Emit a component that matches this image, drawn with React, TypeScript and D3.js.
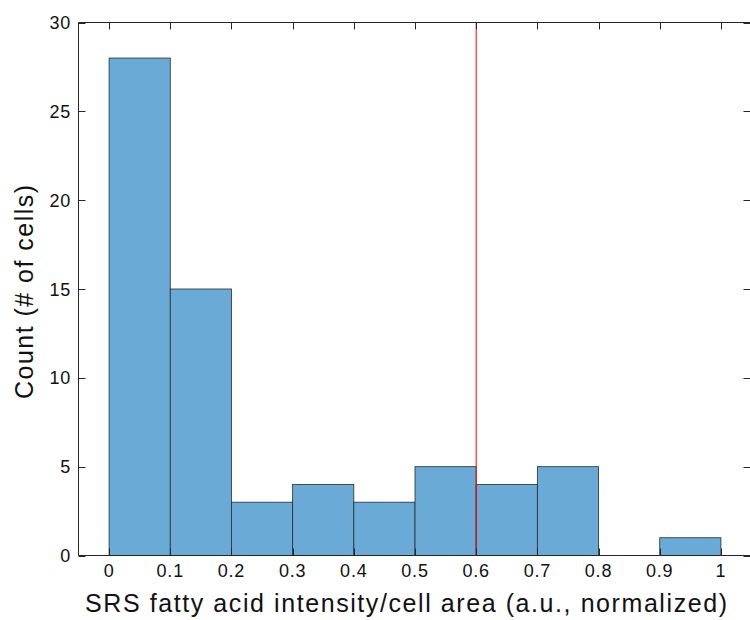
import React, { useRef, useEffect } from 'react';
import * as d3 from 'd3';

// histogram bins (left edges) and counts
const binEdges = [0, 0.1, 0.2, 0.3, 0.4, 0.5, 0.6, 0.7, 0.8, 0.9, 1.0];
const counts = [28, 15, 3, 4, 3, 5, 4, 5, 0, 1];
const xTicks = [0, 0.1, 0.2, 0.3, 0.4, 0.5, 0.6, 0.7, 0.8, 0.9, 1];
const yTicks = [0, 5, 10, 15, 20, 25, 30];
const threshold = 0.6;

const App: React.FC = () => {
  const svgRef = useRef<SVGSVGElement>(null);

  useEffect(() => {
    if (!svgRef.current) return;
    const svg = d3.select(svgRef.current);
    svg.selectAll('*').remove();

    const width = 750;
    const height = 620;
    const left = 78.5;
    const top = 22.5;
    const bottom = 555.5;
    const right = 751.5;
    const font = 'Helvetica, "Liberation Sans", Arial, sans-serif';

    const x = d3.scaleLinear().domain([-0.05, 1.05]).range([left, right]);
    const y = d3.scaleLinear().domain([0, 30]).range([bottom, top]);

    svg.attr('width', width).attr('height', height);

    svg.append('rect').attr('width', width).attr('height', height).attr('fill', '#fff');

    const bins = counts.map((c, i) => ({ x0: binEdges[i], x1: binEdges[i + 1], c }));

    // bars
    svg.selectAll('.bar')
      .data(bins.filter(d => d.c > 0))
      .enter().append('rect')
      .attr('class', 'bar')
      .attr('x', d => x(d.x0))
      .attr('y', d => y(d.c))
      .attr('width', d => x(d.x1) - x(d.x0))
      .attr('height', d => y(0) - y(d.c))
      .attr('fill', '#6aaad7')
      .attr('stroke', '#2b2b2b')
      .attr('stroke-width', 0.8);

    // threshold line
    svg.append('line')
      .attr('x1', x(threshold)).attr('x2', x(threshold))
      .attr('y1', top).attr('y2', bottom)
      .attr('stroke', '#ff0000')
      .attr('stroke-width', 1);

    const axisColor = '#262626';
    const tickLen = 7;

    // box lines (left, bottom, top; right sits at the page edge)
    const box = svg.append('g').attr('stroke', axisColor).attr('stroke-width', 1);
    box.append('line').attr('x1', left).attr('x2', left).attr('y1', top).attr('y2', bottom);
    box.append('line').attr('x1', left).attr('x2', right).attr('y1', bottom).attr('y2', bottom);
    box.append('line').attr('x1', left).attr('x2', right).attr('y1', top).attr('y2', top);
    box.append('line').attr('x1', right - 1).attr('x2', right - 1).attr('y1', top).attr('y2', bottom);

    // x ticks (inward, top and bottom)
    xTicks.forEach(t => {
      const px = Math.round(x(t)) + 0.5;
      box.append('line').attr('x1', px).attr('x2', px).attr('y1', bottom).attr('y2', bottom - tickLen);
      box.append('line').attr('x1', px).attr('x2', px).attr('y1', top).attr('y2', top + tickLen);
    });
    // y ticks (inward, left and right)
    yTicks.forEach(t => {
      const py = Math.round(y(t)) + 0.5;
      box.append('line').attr('x1', left).attr('x2', left + tickLen).attr('y1', py).attr('y2', py);
      box.append('line').attr('x1', right - 1).attr('x2', right - 1 - tickLen).attr('y1', py).attr('y2', py);
    });

    // tick labels
    svg.selectAll('.xlab')
      .data(xTicks)
      .enter().append('text')
      .attr('class', 'xlab')
      .attr('x', d => x(d))
      .attr('y', 577)
      .attr('text-anchor', 'middle')
      .attr('font-family', font)
      .attr('font-size', 18)
      .attr('letter-spacing', 0.8)
      .attr('fill', '#111')
      .text(d => String(d));

    svg.selectAll('.ylab')
      .data(yTicks)
      .enter().append('text')
      .attr('class', 'ylab')
      .attr('x', 71)
      .attr('y', d => y(d) + 6.5)
      .attr('text-anchor', 'end')
      .attr('font-family', font)
      .attr('font-size', 18)
      .attr('letter-spacing', 0.8)
      .attr('fill', '#111')
      .text(d => String(d));

    // axis titles
    svg.append('text')
      .attr('x', 406)
      .attr('y', 612)
      .attr('text-anchor', 'middle')
      .attr('font-family', font)
      .attr('font-size', 25)
      .attr('textLength', 642)
      .attr('lengthAdjust', 'spacing')
      .attr('fill', '#111')
      .text('SRS fatty acid intensity/cell area (a.u., normalized)');

    svg.append('text')
      .attr('transform', `translate(33,292) rotate(-90)`)
      .attr('text-anchor', 'middle')
      .attr('font-family', font)
      .attr('font-size', 25)
      .attr('textLength', 214)
      .attr('lengthAdjust', 'spacing')
      .attr('fill', '#111')
      .text('Count (# of cells)');
  }, []);

  return (
    <div style={{ position: 'absolute', left: 0, top: 0 }}>
      <svg ref={svgRef} style={{ display: 'block' }}></svg>
    </div>
  );
};

export default App;
